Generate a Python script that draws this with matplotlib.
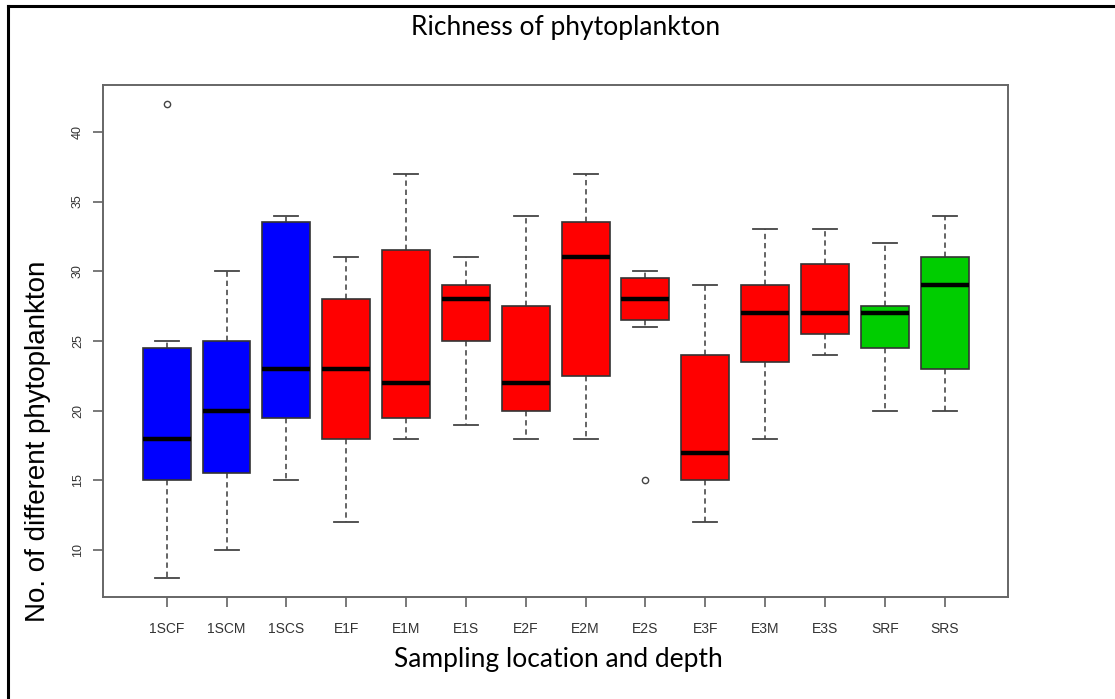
import matplotlib
matplotlib.use("Agg")
import matplotlib.pyplot as plt
from matplotlib.lines import Line2D

# Sampling sites (location + depth) and their box summaries
sites = ['1SCF', '1SCM', '1SCS', 'E1F', 'E1M', 'E1S', 'E2F', 'E2M',
         'E2S', 'E3F', 'E3M', 'E3S', 'SRF', 'SRS']
whisker_low = [8, 10, 15, 12, 18, 19, 18, 18, 26, 12, 18, 24, 20, 20]
quart_low = [15, 15.5, 19.5, 18, 19.5, 25, 20, 22.5, 26.5, 15, 23.5, 25.5, 24.5, 23]
medians = [18, 20, 23, 23, 22, 28, 22, 31, 28, 17, 27, 27, 27, 29]
quart_high = [24.5, 25, 33.5, 28, 31.5, 29, 27.5, 33.5, 29.5, 24, 29, 30.5, 27.5, 31]
whisker_high = [25, 30, 34, 31, 37, 31, 34, 37, 30, 29, 33, 33, 32, 34]
outliers = [[42], [], [], [], [], [], [], [], [15], [], [], [], [], []]
box_colors = ['#0000FF'] * 3 + ['#FF0000'] * 9 + ['#00CD00'] * 2

y_ticks = [10, 15, 20, 25, 30, 35, 40]

W, H = 1115, 699
fig = plt.figure(figsize=(W / 100, H / 100), dpi=100)
fig.patch.set_facecolor('white')

ax = fig.add_axes([103.3 / W, 1 - 597 / H, (1008 - 103.3) / W, (597 - 85) / H])

stats = []
for i in range(len(sites)):
    stats.append(dict(whislo=whisker_low[i], q1=quart_low[i], med=medians[i],
                      q3=quart_high[i], whishi=whisker_high[i],
                      fliers=outliers[i], label=sites[i]))

positions = list(range(1, len(sites) + 1))
bp = ax.bxp(stats, positions=positions, widths=0.8, capwidths=0.4,
            patch_artist=True, showfliers=True,
            boxprops=dict(edgecolor='#333333', linewidth=1.2),
            whiskerprops=dict(color='#3a3a3a', linewidth=1.1, linestyle=(0, (3.5, 2.5))),
            capprops=dict(color='#444444', linewidth=1.3),
            medianprops=dict(color='black', linewidth=3.2, solid_capstyle='butt'),
            flierprops=dict(marker='o', markerfacecolor='none',
                            markeredgecolor='#444444', markersize=4.5,
                            markeredgewidth=1.0))
for patch, c in zip(bp['boxes'], box_colors):
    patch.set_facecolor(c)

n = len(sites)
pad = n * 0.04
ax.set_xlim(0.5 - pad, n + 0.5 + pad)
lo, hi = 8, 42
ext = (hi - lo) * 0.04
ax.set_ylim(lo - ext, hi + ext)

ax.set_xticks(positions)
ax.set_xticklabels(sites, family=['Liberation Sans Narrow', 'Liberation Sans'],
                   fontsize=10, color='#333333')
ax.set_yticks(y_ticks)
ax.set_yticklabels([str(t) for t in y_ticks], family='Liberation Sans',
                   fontsize=9, color='#333333', rotation=90, va='center')
ax.tick_params(axis='both', length=7, width=1.1, color='#555555')
ax.tick_params(axis='x', pad=11)
ax.tick_params(axis='y', pad=7)
for sp in ax.spines.values():
    sp.set_color('#666666')
    sp.set_linewidth(1.4)

# Titles and axis captions
fig.text(566 / W, 1 - 28 / H, 'Richness of phytoplankton', family='Lato',
         fontsize=19, ha='center', va='center', color='black')
fig.text(558 / W, 1 - 660 / H, 'Sampling location and depth', family='Lato',
         fontsize=19, ha='center', va='center', color='black')
fig.text(38 / W, 1 - 441 / H, 'No. of different phytoplankton',
         family='Liberation Sans', fontsize=20, rotation=90,
         ha='center', va='center', color='black')

# Outer frame (left and top edges)
fig.add_artist(Line2D([7.5 / W, 7.5 / W], [0, 1 - 6 / H], transform=fig.transFigure,
                      color='black', linewidth=2.2, solid_capstyle='projecting'))
fig.add_artist(Line2D([7.5 / W, 1], [1 - 6 / H, 1 - 6 / H], transform=fig.transFigure,
                      color='black', linewidth=2.2, solid_capstyle='projecting'))

fig.savefig('out.png', dpi=100, facecolor='white')
